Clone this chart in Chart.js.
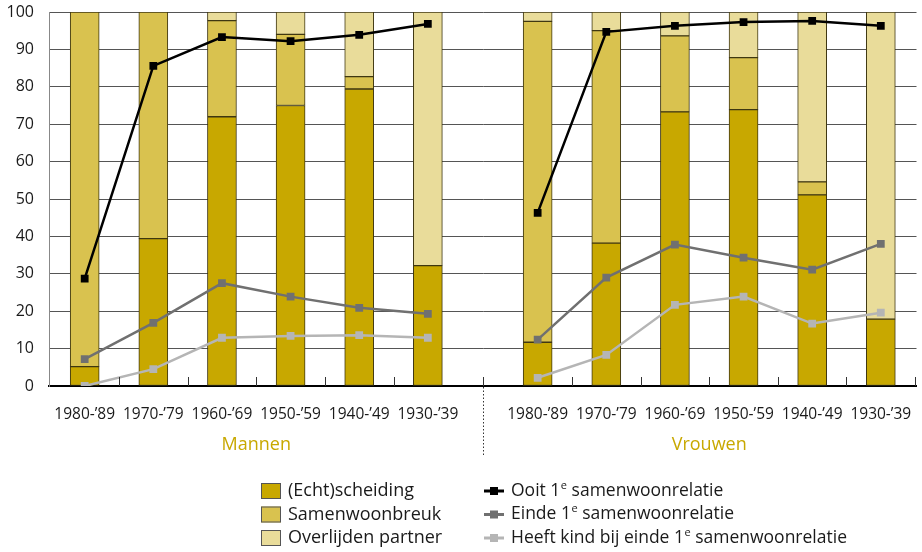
<!DOCTYPE html>
<html>
<head>
<meta charset="utf-8">
<script src="https://cdn.jsdelivr.net/npm/chart.js@4.4.1/dist/chart.umd.min.js"></script>
<style>
  html, body { margin: 0; padding: 0; background: #fff; }
  #wrap { position: relative; width: 922px; height: 552px; }
</style>
</head>
<body>
<div id="wrap"><canvas id="c" width="922" height="552"></canvas></div>
<script>
// ---- Data ----
const groups = ['Mannen', 'Vrouwen'];
const cohorts = ['1980-\u201989', '1970-\u201979', '1960-\u201969', '1950-\u201959', '1940-\u201949', '1930-\u201939'];

const echtMannen   = [5.2, 39.4, 72.0, 75.0, 79.4, 32.2];
const samenMannen  = [94.8, 60.6, 25.7, 19.0, 3.3, 0];
const overMannen   = [0, 0, 2.3, 6.0, 17.3, 67.8];
const echtVrouwen  = [11.7, 38.2, 73.3, 73.9, 51.1, 17.9];
const samenVrouwen = [85.8, 56.8, 20.3, 13.9, 3.5, 0];
const overVrouwen  = [2.5, 5.0, 6.4, 12.2, 45.4, 82.1];

const ooitMannen   = [28.7, 85.6, 93.3, 92.2, 93.9, 96.8];
const ooitVrouwen  = [46.3, 94.7, 96.3, 97.3, 97.6, 96.3];
const eindeMannen  = [7.2, 16.9, 27.5, 23.9, 20.9, 19.3];
const eindeVrouwen = [12.4, 29.0, 37.8, 34.3, 31.1, 38.0];
const kindMannen   = [0, 4.5, 12.9, 13.4, 13.6, 12.9];
const kindVrouwen  = [2.2, 8.3, 21.7, 23.9, 16.7, 19.6];

const yTicks = [0, 10, 20, 30, 40, 50, 60, 70, 80, 90, 100];

const barLabels  = ['(Echt)scheiding', 'Samenwoonbreuk', 'Overlijden partner'];
const lineLabels = ['Ooit 1\u1d49 samenwoonrelatie', 'Einde 1\u1d49 samenwoonrelatie', 'Heeft kind bij einde 1\u1d49 samenwoonrelatie'];

// ---- Layout helpers ----
const GROUP_GAP = 0.6;             // extra space (in slots) between the two groups
const n = cohorts.length;
const posM = cohorts.map((_, i) => i);
const posV = cohorts.map((_, i) => n + GROUP_GAP + i);
const allPos = posM.concat(posV);
const allLabels = cohorts.concat(cohorts);
const separatorX = (posM[n - 1] + posV[0]) / 2;

function barData(m, v) {
  return posM.map((x, i) => ({ x, y: m[i] })).concat(posV.map((x, i) => ({ x, y: v[i] })));
}
function lineData(m, v) {
  return posM.map((x, i) => ({ x, y: m[i] }))
    .concat([{ x: separatorX, y: null }])
    .concat(posV.map((x, i) => ({ x, y: v[i] })));
}

const FONT = "'Open Sans', 'Noto Sans', sans-serif";
const barColors  = ['#c8a800', '#d9c24f', '#e9dc9a'];
const lineColors = ['#000000', '#707070', '#b5b5b5'];
const gold = '#c8a800';

const barSets = [
  [echtMannen, echtVrouwen],
  [samenMannen, samenVrouwen],
  [overMannen, overVrouwen]
].map((d, k) => ({
  type: 'bar',
  label: barLabels[k],
  data: barData(d[0], d[1]),
  backgroundColor: barColors[k],
  borderColor: '#3f3712',
  borderWidth: 1,
  borderSkipped: false,
  barThickness: 29,
  xAxisID: 'x',
  yAxisID: 'y',
  order: 2
}));

const lineSets = [
  [ooitMannen, ooitVrouwen],
  [eindeMannen, eindeVrouwen],
  [kindMannen, kindVrouwen]
].map((d, k) => ({
  type: 'line',
  label: lineLabels[k],
  data: lineData(d[0], d[1]),
  borderColor: lineColors[k],
  backgroundColor: lineColors[k],
  borderWidth: 2.5,
  pointStyle: 'rect',
  pointRadius: 5.5,
  pointBorderWidth: 0,
  spanGaps: false,
  tension: 0,
  xAxisID: 'x',
  yAxisID: 'y2',
  order: 0
}));

function drawSupText(ctx, text, x, y, size) {
  const parts = text.split('\u1d49');
  let cx = x;
  parts.forEach((p, i) => {
    ctx.font = size + 'px ' + FONT;
    ctx.fillText(p, cx, y);
    cx += ctx.measureText(p).width;
    if (i < parts.length - 1) {
      ctx.font = Math.round(size * 0.6) + 'px ' + FONT;
      ctx.fillText('e', cx + 0.5, y - size * 0.32);
      cx += ctx.measureText('e').width + 0.5;
    }
  });
}

const decorPlugin = {
  id: 'decor',
  afterDraw(chart) {
    const ctx = chart.ctx;
    const xs = chart.scales.x;
    const area = chart.chartArea;
    const bottom = area.bottom;
    ctx.save();
    // short tick marks between bars
    ctx.strokeStyle = '#333';
    ctx.lineWidth = 1;
    const marks = [];
    for (let i = 0; i < n - 1; i++) { marks.push(posM[i] + 0.5); marks.push(posV[i] + 0.5); }
    marks.push(separatorX);
    marks.push(posV[n - 1] + 0.5);
    marks.forEach(v => {
      const px = Math.round(xs.getPixelForValue(v)) + 0.5;
      ctx.beginPath();
      ctx.moveTo(px, bottom - 9);
      ctx.lineTo(px, bottom);
      ctx.stroke();
    });
    // dotted separator below axis
    const sx = Math.round(xs.getPixelForValue(separatorX)) + 0.5;
    ctx.setLineDash([1.5, 2]);
    ctx.beginPath();
    ctx.moveTo(sx, bottom + 1);
    ctx.lineTo(sx, bottom + 69);
    ctx.stroke();
    ctx.setLineDash([]);

    // group labels
    ctx.fillStyle = gold;
    ctx.font = '18px ' + FONT;
    ctx.textAlign = 'center';
    ctx.textBaseline = 'middle';
    const gm = xs.getPixelForValue((posM[2] + posM[3]) / 2);
    const gv = xs.getPixelForValue((posV[2] + posV[3]) / 2);
    ctx.fillText(groups[0], gm, bottom + 59);
    ctx.fillText(groups[1], gv, bottom + 59);

    // legend
    ctx.textAlign = 'left';
    ctx.textBaseline = 'middle';
    const rows = [491, 514.5, 538];
    barSets.forEach((ds, k) => {
      const y = rows[k];
      ctx.fillStyle = ds.backgroundColor;
      ctx.fillRect(261, y - 8, 20, 16);
      ctx.strokeStyle = '#555';
      ctx.lineWidth = 1;
      ctx.strokeRect(261.5, y - 7.5, 19, 15);
      ctx.fillStyle = '#1a1a1a';
      ctx.font = '18px ' + FONT;
      ctx.fillText(ds.label, 288, y);
    });
    lineSets.forEach((ds, k) => {
      const y = rows[k];
      ctx.strokeStyle = ds.borderColor;
      ctx.lineWidth = 3;
      ctx.beginPath();
      ctx.moveTo(484, y);
      ctx.lineTo(504, y);
      ctx.stroke();
      ctx.fillStyle = ds.borderColor;
      ctx.fillRect(490, y - 4, 8, 8);
      ctx.fillStyle = '#1a1a1a';
      drawSupText(ctx, ds.label, 511, y, 17.5);
    });
    ctx.restore();
  }
};

new Chart(document.getElementById('c'), {
  data: { datasets: barSets.concat(lineSets) },
  options: {
    responsive: false,
    animation: false,
    events: [],
    layout: { padding: { top: 12, right: 2, left: 0, bottom: 0 } },
    plugins: { legend: { display: false }, tooltip: { enabled: false } },
    scales: {
      x: {
        type: 'linear',
        stacked: true,
        offset: false,
        min: posM[0] - 0.52,
        max: posV[n - 1] + 0.52,
        afterBuildTicks: (s) => { s.ticks = allPos.map(v => ({ value: v })); },
        afterFit: (s) => { s.height = 166; s.paddingLeft = 0; s.paddingRight = 0; },
        grid: { display: false, drawTicks: false },
        border: { display: true, color: '#000', width: 2 },
        ticks: {
          autoSkip: false,
          maxRotation: 0,
          padding: 19,
          color: '#1a1a1a',
          font: { family: FONT, size: 15.5 },
          callback: (v, i) => allLabels[i]
        }
      },
      y: {
        stacked: true,
        min: 0,
        max: 100,
        afterBuildTicks: (s) => { s.ticks = yTicks.map(v => ({ value: v })); },
        afterFit: (s) => { s.width = 49; s.paddingTop = 0; s.paddingBottom = 0; },
        grid: { color: '#555', lineWidth: 1, drawTicks: false },
        border: { display: true, color: '#888', width: 1 },
        ticks: {
          padding: 15,
          color: '#1a1a1a',
          font: { family: FONT, size: 16 }
        }
      },
      y2: {
        display: false,
        min: 0,
        max: 100
      }
    }
  },
  plugins: [decorPlugin]
});
</script>
</body>
</html>
